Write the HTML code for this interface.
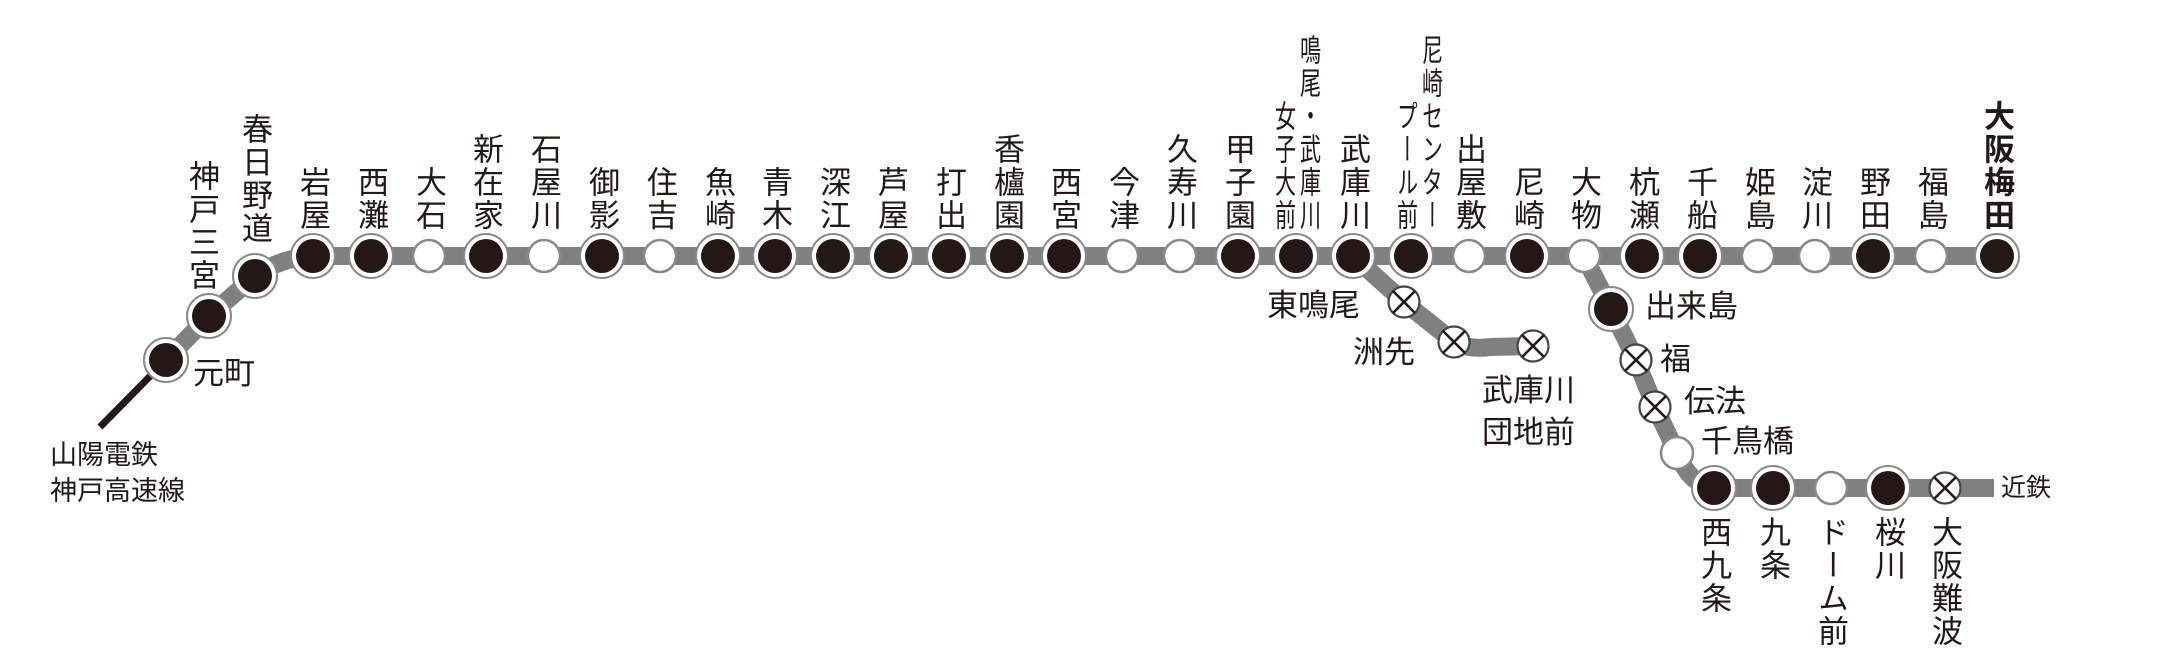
<!DOCTYPE html>
<html><head><meta charset="utf-8"><style>
html,body{margin:0;padding:0;background:#fff;}
#w{position:relative;width:2172px;height:668px;overflow:hidden;background:#fff;font-family:"Liberation Sans","Noto Sans CJK JP",sans-serif;color:#231815;}
svg{position:absolute;left:0;top:0;}
.v{position:absolute;writing-mode:vertical-rl;font-size:31px;line-height:33px;width:33px;text-align:end;bottom:436px;height:240px;letter-spacing:2px;white-space:nowrap;}
.b{position:absolute;writing-mode:vertical-rl;font-size:31px;line-height:33px;width:33px;text-align:start;top:516px;height:150px;letter-spacing:2px;white-space:nowrap;}
.h{position:absolute;font-size:31px;line-height:34px;white-space:nowrap;}
.c{position:absolute;writing-mode:vertical-rl;font-size:31px;line-height:33px;width:33px;text-align:end;bottom:436px;height:240px;letter-spacing:2px;white-space:nowrap;transform:scaleX(0.68);transform-origin:center bottom;}
</style></head><body><div id="w">
<svg width="2172" height="668" viewBox="0 0 2172 668">
<line x1="166" y1="360" x2="100" y2="427" stroke="#231815" stroke-width="7"/>
<g fill="none" stroke="#808080" stroke-width="18" stroke-linejoin="round">
<path d="M166,360 L209,316 L255,276 Q280,258 313,256 L1997,256"/>
<path d="M1353,256 L1404,302 L1454,342 Q1470,350 1490,347 L1533,346"/>
<path d="M1584,256 L1611,309 L1636,360 L1655,407 L1677,453 Q1690,485 1714,488 L1994,488"/>
</g>
<defs>
<g id="k"><circle r="22" fill="#fff" stroke="#888" stroke-width="2"/><circle r="17" fill="#231815"/></g>
<g id="o"><circle r="16" fill="#fff" stroke="#888" stroke-width="2.5"/></g>
<g id="x"><circle r="15.5" fill="#fff" stroke="#444" stroke-width="2.2"/><path d="M-11,-11 L11,11 M11,-11 L-11,11" stroke="#231815" stroke-width="2.6"/></g>
</defs>
<use href="#k" x="166" y="360"/><use href="#k" x="209" y="316"/><use href="#k" x="255" y="276"/>
<use href="#k" x="313" y="256"/><use href="#k" x="371" y="256"/><use href="#o" x="429" y="256"/>
<use href="#k" x="486" y="256"/><use href="#o" x="544" y="256"/><use href="#k" x="602" y="256"/>
<use href="#o" x="660" y="256"/><use href="#k" x="718" y="256"/><use href="#k" x="775" y="256"/>
<use href="#k" x="833" y="256"/><use href="#k" x="891" y="256"/><use href="#k" x="949" y="256"/>
<use href="#k" x="1007" y="256"/><use href="#k" x="1064" y="256"/><use href="#o" x="1122" y="256"/>
<use href="#o" x="1180" y="256"/><use href="#k" x="1238" y="256"/><use href="#k" x="1296" y="256"/>
<use href="#k" x="1353" y="256"/><use href="#k" x="1411" y="256"/><use href="#o" x="1469" y="256"/>
<use href="#k" x="1527" y="256"/><use href="#o" x="1584" y="256"/><use href="#k" x="1642" y="256"/>
<use href="#k" x="1700" y="256"/><use href="#o" x="1758" y="256"/><use href="#o" x="1815" y="256"/>
<use href="#k" x="1873" y="256"/><use href="#o" x="1931" y="256"/><use href="#k" x="1997" y="256"/>
<use href="#x" x="1404" y="302"/><use href="#x" x="1454" y="342"/><use href="#x" x="1533" y="346"/>
<use href="#k" x="1611" y="309"/><use href="#x" x="1636" y="360"/><use href="#x" x="1655" y="407"/>
<use href="#o" x="1677" y="453"/><use href="#k" x="1714" y="488"/><use href="#k" x="1773" y="488"/>
<use href="#o" x="1831" y="488"/><use href="#k" x="1888" y="488"/><use href="#x" x="1945" y="488"/>
</svg>

<div class="v" style="left:185px;bottom:376px">神戸三宮</div>
<div class="v" style="left:238px;bottom:423px">春日野道</div>
<div class="v" style="left:296px">岩屋</div>
<div class="v" style="left:354px">西灘</div>
<div class="v" style="left:412px">大石</div>
<div class="v" style="left:469px">新在家</div>
<div class="v" style="left:527px">石屋川</div>
<div class="v" style="left:585px">御影</div>
<div class="v" style="left:643px">住吉</div>
<div class="v" style="left:701px">魚崎</div>
<div class="v" style="left:758px">青木</div>
<div class="v" style="left:816px">深江</div>
<div class="v" style="left:874px">芦屋</div>
<div class="v" style="left:932px">打出</div>
<div class="v" style="left:990px">香櫨園</div>
<div class="v" style="left:1047px">西宮</div>
<div class="v" style="left:1105px">今津</div>
<div class="v" style="left:1163px">久寿川</div>
<div class="v" style="left:1221px">甲子園</div>
<div class="c" style="left:1292px">鳴尾・武庫川</div>
<div class="c" style="left:1267px">女子大前</div>
<div class="v" style="left:1336px">武庫川</div>
<div class="c" style="left:1414px">尼崎センター</div>
<div class="c" style="left:1389px">プール前</div>
<div class="v" style="left:1452px">出屋敷</div>
<div class="v" style="left:1510px">尼崎</div>
<div class="v" style="left:1567px">大物</div>
<div class="v" style="left:1625px">杭瀬</div>
<div class="v" style="left:1683px">千船</div>
<div class="v" style="left:1741px">姫島</div>
<div class="v" style="left:1798px">淀川</div>
<div class="v" style="left:1856px">野田</div>
<div class="v" style="left:1914px">福島</div>
<div class="v" style="left:1980px;font-weight:bold">大阪梅田</div>

<div class="h" style="left:193px;top:357px">元町</div>
<div class="h" style="left:50px;top:437px;font-size:27px;line-height:36px">山陽電鉄<br>神戸高速線</div>
<div class="h" style="left:1267px;top:289px">東鳴尾</div>
<div class="h" style="left:1353px;top:336px">洲先</div>
<div class="h" style="left:1482px;top:370px;line-height:42px">武庫川<br>団地前</div>
<div class="h" style="left:1645px;top:290px">出来島</div>
<div class="h" style="left:1660px;top:343px">福</div>
<div class="h" style="left:1684px;top:385px">伝法</div>
<div class="h" style="left:1701px;top:425px">千鳥橋</div>
<div class="h" style="left:2001px;top:474px;font-size:25px;line-height:28px">近鉄</div>

<div class="b" style="left:1697px">西九条</div>
<div class="b" style="left:1756px">九条</div>
<div class="b" style="left:1814px">ドーム前</div>
<div class="b" style="left:1871px">桜川</div>
<div class="b" style="left:1928px">大阪難波</div>
</div></body></html>
